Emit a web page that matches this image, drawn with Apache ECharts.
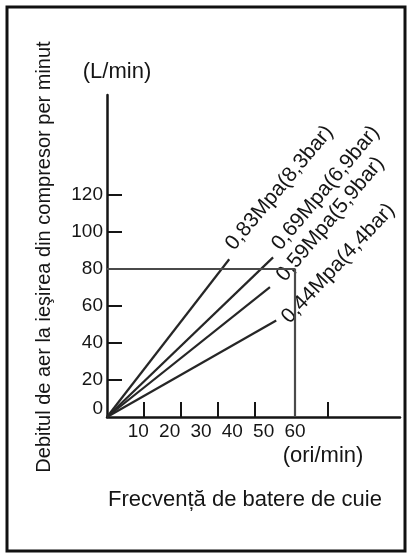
<!DOCTYPE html>
<html>
<head>
<meta charset="utf-8">
<script src="https://cdn.jsdelivr.net/npm/echarts@6/dist/echarts.min.js"></script>
<style>
  html, body { margin: 0; padding: 0; background: #fff; }
  #chart { width: 412px; height: 554px; }
</style>
</head>
<body>
<div id="chart"></div>
<script>
// date
var pressureNames = ['0,83Mpa(8,3bar)', '0,69Mpa(6,9bar)', '0,59Mpa(5,9bar)', '0,44Mpa(4,4bar)'];
var lineEnds = [[39, 85], [53, 86], [52, 70], [54, 52]];
var labelOffsets = [[7, -10], [7, -7], [11, 0], [4, 4]];
var labelAngles = [50, 50, 50, 47];
var yLabelValues = [0, 20, 40, 60, 80, 100, 120];
var yTickValues = [20, 40, 60, 80, 100, 120];
var xLabelValues = [10, 20, 30, 40, 50, 60];
var xTickValues = [11.8, 23.6, 35.4, 47.2, 70.4];
var refPoint = [60, 80];

var font = "'Liberation Sans', Arial, sans-serif";
var ink = '#151515';

var chart = echarts.init(document.getElementById('chart'));

var series = [];
for (var i = 0; i < pressureNames.length; i++) {
  var s = {
    name: pressureNames[i],
    type: 'line',
    // simbol invizibil, altfel eticheta nu se deseneaza
    symbol: 'circle',
    symbolSize: 1,
    showSymbol: true,
    itemStyle: { color: 'rgba(0,0,0,0)' },
    lineStyle: { color: '#262626', width: 2.2 },
    data: [
      [0, 0],
      {
        value: lineEnds[i],
        label: {
          show: true,
          position: 'right',
          distance: 3,
          rotate: labelAngles[i],
          offset: labelOffsets[i],
          formatter: pressureNames[i],
          color: ink,
          fontSize: 21,
          fontFamily: font
        }
      }
    ]
  };
  if (i === 0) {
    // liniile de referinta 80 L/min si 60 ori/min
    s.markLine = {
      silent: true,
      symbol: 'none',
      label: { show: false },
      lineStyle: { color: '#4a4a4a', width: 2.2, type: 'solid' },
      data: [
        [{ coord: [0, refPoint[1]] }, { coord: refPoint }],
        [{ coord: refPoint }, { coord: [refPoint[0], 0] }]
      ]
    };
  }
  series.push(s);
}

var option = {
  animation: false,
  backgroundColor: '#fff',
  grid: { left: 107, top: 95, right: 12, bottom: 137 },
  xAxis: {
    type: 'value',
    min: 0,
    max: 93.5,
    splitLine: { show: false },
    axisLine: { onZero: false, lineStyle: { color: ink, width: 2.5 } },
    axisTick: { show: true, inside: true, length: 15, customValues: xTickValues, lineStyle: { color: ink, width: 2 } },
    axisLabel: { customValues: xLabelValues, margin: 5, color: ink, fontSize: 19, fontFamily: font }
  },
  yAxis: {
    type: 'value',
    min: 0,
    max: 173.5,
    name: '(L/min)',
    nameLocation: 'end',
    nameGap: 12,
    nameTextStyle: { color: ink, fontSize: 22, fontFamily: font, align: 'center', padding: [0, 0, 0, 20] },
    splitLine: { show: false },
    axisLine: { show: true, lineStyle: { color: ink, width: 2.5 } },
    axisTick: { show: true, inside: true, length: 15, customValues: yTickValues, lineStyle: { color: ink, width: 2 } },
    axisLabel: {
      customValues: yLabelValues,
      margin: 4,
      color: ink,
      fontSize: 19,
      fontFamily: font,
      formatter: function (v) { return v === 0 ? '{z|0}' : String(v); },
      rich: { z: { fontSize: 19, fontFamily: font, color: ink, padding: [0, 0, 16, 0] } }
    }
  },
  graphic: [
    {
      type: 'rect',
      shape: { x: 7, y: 7, width: 398, height: 544 },
      style: { fill: 'none', stroke: '#111', lineWidth: 3 }
    },
    {
      type: 'text',
      x: 44, y: 257,
      rotation: Math.PI / 2,
      style: { text: 'Debitul de aer la ieşirea din compresor per minut', fill: ink, fontSize: 20, fontFamily: font, align: 'center', verticalAlign: 'middle' }
    },
    {
      type: 'text',
      x: 323, y: 456,
      style: { text: '(ori/min)', fill: ink, fontSize: 22, fontFamily: font, align: 'center', verticalAlign: 'middle' }
    },
    {
      type: 'text',
      x: 245, y: 500,
      style: { text: 'Frecvență de batere de cuie', fill: ink, fontSize: 22, fontFamily: font, align: 'center', verticalAlign: 'middle' }
    }
  ],
  series: series
};

chart.setOption(option);
window.addEventListener('resize', function () {
  chart.resize();
});
</script>
</body>
</html>
